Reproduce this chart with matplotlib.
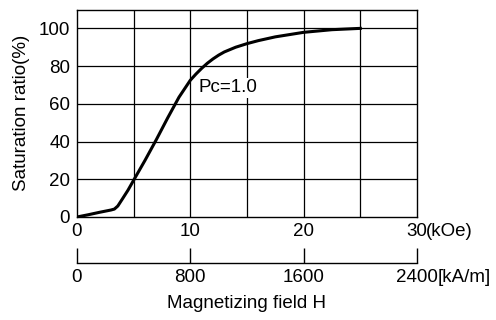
import numpy as np
import matplotlib.pyplot as plt

# saturation curve, Pc=1.0
h_koe = [0, 1, 2, 3, 3.3, 3.6, 4.0, 4.5, 5.0, 6.0, 7.0, 8.0, 8.5, 9.0, 9.5,
         10.0, 10.5, 11.0, 11.5, 12.0, 12.5, 13.0, 14.0, 15.0, 16.0, 17.5,
         20.0, 22.5, 25.0]
sat = [0, 1.2, 2.5, 3.7, 4.2, 5.8, 9.5, 14.2, 19.5, 30, 41, 52.5, 58, 63.5, 68,
       72.5, 75.8, 78.8, 81.5, 83.8, 85.8, 87.5, 90, 91.9, 93.5, 95.5,
       97.9, 99.3, 100]

koe_ticks = [0, 10, 20, 30]
kam_ticks = [0, 800, 1600, 2400]
y_ticks = [0, 20, 40, 60, 80, 100]

plt.rcParams['font.family'] = 'Liberation Sans'
plt.rcParams['font.size'] = 13.5

fig = plt.figure(figsize=(4.96, 3.2), dpi=100)
ax = fig.add_axes([0.1552, 0.3219, 0.6855, 0.6484])

ax.plot(h_koe, sat, color='black', lw=2.2)
ax.set_xlim(0, 30)
ax.set_ylim(0, 110)

for x in [5, 10, 15, 20, 25]:
    ax.axvline(x, color='black', lw=0.9, zorder=0)
for y in [20, 40, 60, 80, 100]:
    ax.axhline(y, color='black', lw=0.9, zorder=0)

ax.set_xticks(koe_ticks)
ax.set_yticks(y_ticks)
ax.tick_params(axis='y', length=0, pad=5)
ax.tick_params(axis='x', length=0, pad=4)
ax.set_ylabel('Saturation ratio(%)', labelpad=6)
for s in ax.spines.values():
    s.set_linewidth(1.0)

ax.annotate('(kOe)', xy=(30, 0), xytext=(6.5, -4), textcoords='offset points',
            ha='left', va='top', annotation_clip=False)
ax.text(10.7, 68.5, 'Pc=1.0', ha='left', va='center',
        bbox=dict(facecolor='white', edgecolor='none', pad=1))

# second scale in kA/m
ax2 = fig.add_axes([0.1552, 0.178, 0.6855, 0.01])
ax2.set_xlim(0, 2400)
ax2.set_ylim(0, 1)
for name in ['top', 'left', 'right']:
    ax2.spines[name].set_visible(False)
ax2.spines['bottom'].set_linewidth(1.0)
ax2.set_yticks([])
ax2.set_xticks(kam_ticks)
ax2.tick_params(axis='x', direction='in', length=11, width=1.0, pad=4)
ax2.patch.set_alpha(0)
ax2.annotate('[kA/m]', xy=(2400, 0), xytext=(15, -4), textcoords='offset points',
             ha='left', va='top', annotation_clip=False)
ax2.set_xlabel('Magnetizing field H', labelpad=7)

fig.savefig('out.png', dpi=100)
